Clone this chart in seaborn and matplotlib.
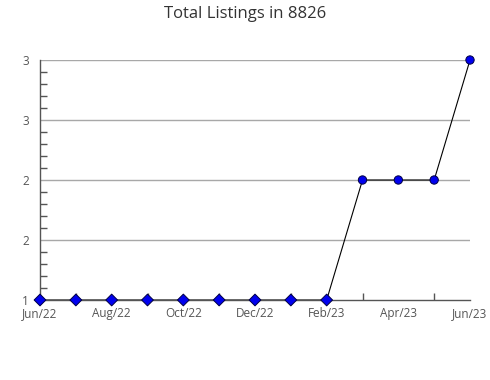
import matplotlib
matplotlib.use("Agg")
import math
import matplotlib.pyplot as plt
import seaborn as sns
import pandas as pd
from matplotlib.ticker import MultipleLocator, FixedLocator, FuncFormatter

months = ["Jun/22", "Jul/22", "Aug/22", "Sep/22", "Oct/22", "Nov/22", "Dec/22",
          "Jan/23", "Feb/23", "Mar/23", "Apr/23", "May/23", "Jun/23"]
listings = [1, 1, 1, 1, 1, 1, 1, 1, 1, 2, 2, 2, 3]
y_ticks = [1, 1.5, 2, 2.5, 3]

sns.set_theme(style="white")
plt.rcParams['font.family'] = ['Open Sans', 'DejaVu Sans']

df = pd.DataFrame({"idx": range(len(months)), "month": months, "value": listings})
df["shape"] = ["low" if v == min(listings) else "high" for v in listings]

fig = plt.figure(figsize=(4.9, 3.8), dpi=100)
ax = fig.add_axes([40/490, 80/380, 430/490, 240/380])

for y in y_ticks[1:]:
    ax.axhline(y, color="#a8a8a8", lw=1, zorder=0)

sns.lineplot(data=df, x="idx", y="value", color="black", lw=0.8, ax=ax, zorder=2)
sns.scatterplot(data=df, x="idx", y="value", style="shape",
                markers={"low": "D", "high": "o"}, s=36, color="#0000ee",
                edgecolor="#000044", linewidth=0.7, ax=ax, zorder=3,
                legend=False, clip_on=False)

ax.set_xlim(0, len(months) - 1)
ax.set_ylim(1, 3)
ax.set_xlabel("")
ax.set_ylabel("")
ax.xaxis.set_major_locator(FixedLocator(list(range(0, len(months), 2))))
ax.xaxis.set_minor_locator(FixedLocator(list(range(len(months)))))
ax.set_xticklabels([months[i] for i in range(0, len(months), 2)])
ax.yaxis.set_major_locator(FixedLocator(y_ticks))
ax.yaxis.set_minor_locator(MultipleLocator(0.1))
ax.yaxis.set_major_formatter(FuncFormatter(lambda v, p: str(int(math.floor(v + 0.5)))))

for s in ["top", "right"]:
    ax.spines[s].set_visible(False)
for s in ["left", "bottom"]:
    ax.spines[s].set_color("#555555")
    ax.spines[s].set_linewidth(1)

ax.tick_params(axis="both", which="both", direction="in", colors="#555555",
               labelcolor="#555555", labelsize=8.5)
ax.tick_params(axis="both", which="minor", length=5, width=1)
ax.tick_params(axis="x", which="major", length=0, pad=5)
ax.tick_params(axis="y", which="major", length=0, pad=8)
ax.tick_params(axis="y", which="both", left=True)
ax.tick_params(axis="x", which="both", bottom=True)

fig.suptitle("Total Listings in 8826", x=0.5, y=0.985, fontsize=12, color="#333333")

fig.savefig("out.png", dpi=100)
